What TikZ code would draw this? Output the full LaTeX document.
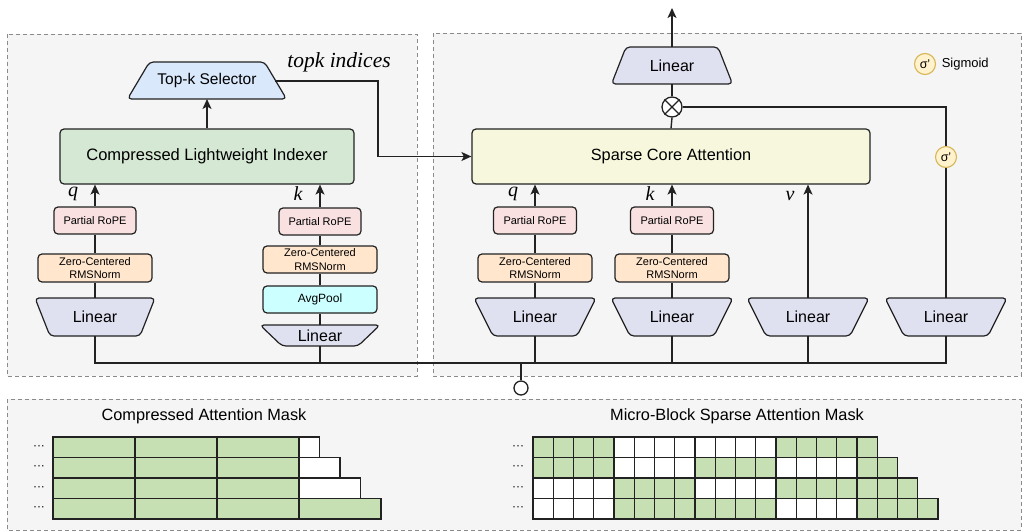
\documentclass[tikz,border=0pt]{standalone}
\usepackage{fontspec}
\setmainfont{Liberation Sans}
\newfontfamily\serifit{Liberation Serif}
\usetikzlibrary{arrows.meta,calc}

\definecolor{cpanel}{HTML}{F5F5F5}
\definecolor{cborder}{HTML}{8A8A8A}
\definecolor{cline}{HTML}{222222}
\definecolor{cTK}{HTML}{DAE8FC}
\definecolor{cIDX}{HTML}{D5E8D4}
\definecolor{cPR}{HTML}{F9E1E1}
\definecolor{cZC}{HTML}{FFE6CC}
\definecolor{cAP}{HTML}{CCFFFF}
\definecolor{cLIN}{HTML}{DFE1F1}
\definecolor{cSCA}{HTML}{F6F7DC}
\definecolor{cSGf}{HTML}{FFF2CC}
\definecolor{cSGd}{HTML}{D6B656}
\definecolor{cGRN}{HTML}{C6E0B4}

\newcommand\fsz[2]{\fontsize{#1}{#2}\selectfont}

\tikzset{
  panelst/.style={draw=cborder, fill=cpanel, line width=0.9pt, dash pattern=on 4pt off 3pt},
  box/.style={draw=cline, line width=1.2pt, rounded corners=4pt, inner sep=0pt, align=center},
  trapst/.style={draw=cline, line width=1.2pt, rounded corners=4pt, line join=round},
  ln/.style={draw=cline, line width=1.4pt},
  arr/.style={ln, -{Stealth[length=10pt,width=9pt,inset=2.5pt]}},
  sig/.style={circle, draw=cSGd, fill=cSGf, line width=1.1pt, minimum size=21pt, inner sep=0pt, font=\fsz{12.5}{13}},
  lbl/.style={font=\serifit\itshape\fsz{20}{22}, inner sep=0pt},
  cell/.style={draw=cline, line width=1.1pt},
  dots/.style={font=\fsz{12}{12}, inner sep=0pt}
}

% #1 name, #2 cx, #3 ytop, #4 ybot, #5 half top, #6 half bottom, #7 fill, #8 font size, #9 text
\newcommand\trap[9]{%
  \draw[trapst, fill=#7] ({#2-#5},#3) -- ({#2+#5},#3) -- ({#2+#6},#4) -- ({#2-#6},#4) -- cycle;
  \node[inner sep=0pt, font=\fsz{#8}{#8}] (#1) at (#2,{(#3+#4)/2}) {#9};
  \coordinate (#1-t) at (#2,#3);
  \coordinate (#1-b) at (#2,#4);
}

\begin{document}
\begin{tikzpicture}[x=1pt,y=-1pt]
\useasboundingbox (0,0) rectangle (1024,532);

% panels
\path[panelst] (7,34) rectangle (417,376);
\path[panelst] (433,33) rectangle (1021,376);
\path[panelst] (7,399) rectangle (1021,530);

% ---------------- left panel ----------------
\trap{tk}{207}{62}{99}{57.5}{79.5}{cTK}{15.5}{Top-k Selector}
\coordinate (tk-r) at (275,81);
\node[box, fill=cIDX, minimum width=294pt, minimum height=55pt, font=\fsz{16.5}{18}] (idx) at (207,156.5) {Compressed Lightweight Indexer};

\node[box, fill=cPR, minimum width=82pt, minimum height=27pt, font=\fsz{11}{13}] (prlq) at (95,220.5) {Partial RoPE};
\node[box, fill=cZC, minimum width=114pt, minimum height=28pt, font=\fsz{11}{13.3}] (zclq) at (95,268) {Zero-Centered\\RMSNorm};
\trap{linlq}{95}{298}{336}{60}{45}{cLIN}{16}{Linear}

\node[box, fill=cPR, minimum width=82pt, minimum height=27pt, font=\fsz{11}{13}] (prlk) at (320,221.5) {Partial RoPE};
\node[box, fill=cZC, minimum width=114pt, minimum height=27pt, font=\fsz{11}{13.3}] (zclk) at (320,259.5) {Zero-Centered\\RMSNorm};
\node[box, fill=cAP, minimum width=114pt, minimum height=27pt, font=\fsz{12}{13}] (aplk) at (320,299.5) {AvgPool};
\trap{linlk}{320}{325}{346}{60}{38}{cLIN}{16}{Linear}

\node[lbl] (ql) at (73,194) {q};
\node[lbl] (kl) at (298,194) {k};
\node[font=\serifit\itshape\fsz{21.5}{22}, inner sep=0pt] (tki) at (339,62) {topk indices};

% ---------------- right panel ----------------
\trap{linO}{672}{47}{84}{46}{60.5}{cLIN}{16}{Linear}
\coordinate (outp) at (672,8);
\node[circle, draw=cline, fill=white, line width=1.3pt, minimum size=20pt, inner sep=0pt] (ot) at (672,107) {};
\draw[cline, line width=1.3pt] (ot.north west) -- (ot.south east) (ot.north east) -- (ot.south west);
\node[box, fill=cSCA, minimum width=398pt, minimum height=55pt, font=\fsz{16.3}{18}] (sca) at (671,156.5) {Sparse Core Attention};

\node[sig] (leg) at (925,64) {σ'};
\node[anchor=west, inner sep=0pt, font=\fsz{13}{14}] (legt) at ($(leg.east)+(5.5,0)$) {Sigmoid};
\node[sig] (sg) at (946,157) {σ'};

\node[box, fill=cPR, minimum width=83pt, minimum height=27pt, font=\fsz{11}{13}] (prrq) at (535,220.5) {Partial RoPE};
\node[box, fill=cZC, minimum width=114pt, minimum height=28pt, font=\fsz{11}{13.3}] (zcrq) at (535,268) {Zero-Centered\\RMSNorm};
\trap{linrq}{535}{298}{336}{61}{42}{cLIN}{16}{Linear}

\node[box, fill=cPR, minimum width=83pt, minimum height=27pt, font=\fsz{11}{13}] (prrk) at (672,220.5) {Partial RoPE};
\node[box, fill=cZC, minimum width=114pt, minimum height=28pt, font=\fsz{11}{13.3}] (zcrk) at (672,268) {Zero-Centered\\RMSNorm};
\trap{linrk}{672}{298}{336}{61}{42}{cLIN}{16}{Linear}

\trap{linv}{808}{298}{336}{61}{42}{cLIN}{16}{Linear}
\trap{lin4}{946}{298}{336}{61}{42}{cLIN}{16}{Linear}

\node[lbl] (qr) at (513,194) {q};
\node[lbl] (kr) at (650,194) {k};
\node[lbl] (vr) at (790,196) {v};

% input
\node[circle, draw=cline, fill=white, line width=1.3pt, minimum size=14pt, inner sep=0pt] (inp) at (521,388) {};
\coordinate (busL) at (95,363);
\coordinate (busR) at (946,363);

% ---------------- connectors ----------------
\draw[arr] (idx.north) -- (idx.north |- tk-b);
\draw[arr] (prlq.north) -- (prlq.north |- idx.south);
\draw[arr] (prlk.north) -- (prlk.north |- idx.south);
\draw[ln] (zclq.north) -- (prlq.south);
\draw[ln] (linlq-t) -- (zclq.south);
\draw[ln] (zclk.north) -- (prlk.south);
\draw[ln] (aplk.north) -- (zclk.south);
\draw[ln] (linlk-t) -- (aplk.south);

\coordinate (tkc) at (378,120);
\draw[arr] (tk-r) -| (tkc) |- (sca.west);

\draw[arr] (prrq.north) -- (prrq.north |- sca.south);
\draw[arr] (prrk.north) -- (prrk.north |- sca.south);
\draw[arr] (linv-t) -- (linv-t |- sca.south);
\draw[ln] (zcrq.north) -- (prrq.south);
\draw[ln] (linrq-t) -- (zcrq.south);
\draw[ln] (zcrk.north) -- (prrk.south);
\draw[ln] (linrk-t) -- (zcrk.south);

\draw[ln] (lin4-t) -- (sg.south);
\draw[ln] (sg.north) |- (ot.east);
\draw[ln] (sca.north) -- (ot.south);
\draw[ln] (ot.north) -- (linO-b);
\draw[arr] (linO-t) -- (outp);

\draw[ln] (linlq-b) -- (busL) -- (busR) -- (lin4-b);
\draw[ln] (linlk-b) -- (linlk-b |- busL);
\draw[ln] (linrq-b) -- (linrq-b |- busL);
\draw[ln] (linrk-b) -- (linrk-b |- busL);
\draw[ln] (linv-b) -- (linv-b |- busL);
\draw[ln] (inp.north |- busL) -- (inp.north);

% ---------------- masks ----------------
\node[inner sep=0pt, font=\fsz{16.3}{18}] (t1) at (204,416) {Compressed Attention Mask};
\node[inner sep=0pt, font=\fsz{16.3}{18}] (t2) at (737,416) {Micro-Block Sparse Attention Mask};

% compressed
\foreach \r in {0,1,2,3} {
  \foreach \c in {0,1,2} {
    \draw[cell, fill=cGRN] ({53+\c*82},{437+\r*20.5}) rectangle ({53+(\c+1)*82},{437+(\r+1)*20.5});
  }
  \ifnum\r=3
    \draw[cell, fill=cGRN] (299,{437+\r*20.5}) rectangle ({299+(\r+1)*20.5},{437+(\r+1)*20.5});
  \else
    \draw[cell, fill=white] (299,{437+\r*20.5}) rectangle ({299+(\r+1)*20.5},{437+(\r+1)*20.5});
  \fi
  \node[dots] at (39,{437+(\r+0.5)*20.5}) {···};
  \node[dots] at (518,{437+(\r+0.5)*20.5}) {···};
}

% micro-block
\foreach \r/\n in {0/17,1/18,2/19,3/20} {
  \fill[white] (533,{437+\r*20.5}) rectangle ({533+\n*20.25},{437+(\r+1)*20.5});
}
\foreach \r/\a/\b in {0/0/4,0/12/17,1/0/4,1/8/12,1/16/18,2/4/8,2/12/19,3/4/12,3/16/20} {
  \fill[cGRN] ({533+\a*20.25},{437+\r*20.5}) rectangle ({533+\b*20.25},{437+(\r+1)*20.5});
}
\foreach \r/\n in {0/17,1/18,2/19,3/20} {
  \foreach \c in {1,...,\n} {
    \draw[cell] ({533+(\c-1)*20.25},{437+\r*20.5}) rectangle ({533+\c*20.25},{437+(\r+1)*20.5});
  }
}
\end{tikzpicture}
\end{document}
